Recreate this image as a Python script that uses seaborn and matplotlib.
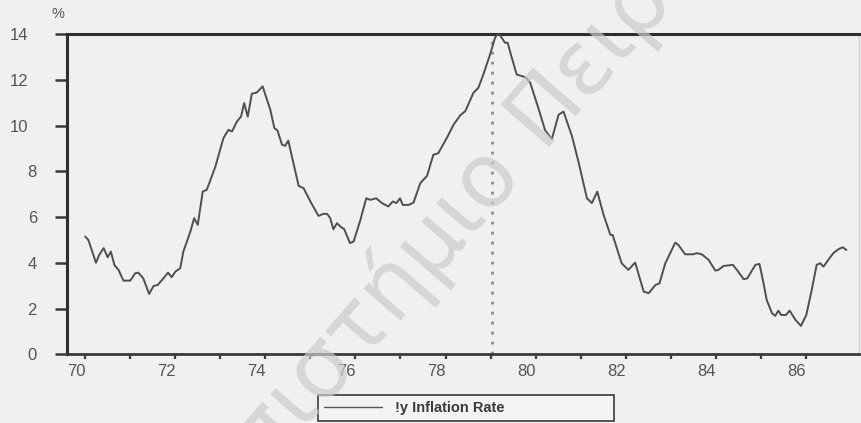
import matplotlib
matplotlib.use("Agg")
import matplotlib.pyplot as plt
import matplotlib.transforms as mtransforms
import numpy as np
import pandas as pd
import seaborn as sns

# Annual inflation rate, 1970-1987 (decimal year, percent)
years = [
    70.00, 70.07, 70.24, 70.31, 70.41, 70.50, 70.57, 70.65, 70.74, 70.85,
    71.00, 71.11, 71.18, 71.29, 71.42, 71.52, 71.61, 71.72, 71.84, 71.92,
    72.00, 72.11, 72.18, 72.33, 72.42, 72.50, 72.61, 72.70, 72.89, 73.07,
    73.18, 73.26, 73.37, 73.46, 73.53, 73.61, 73.70, 73.81, 73.94, 74.11,
    74.20, 74.27, 74.37, 74.44, 74.51, 74.59, 74.74, 74.85, 75.00, 75.18,
    75.29, 75.37, 75.44, 75.51, 75.59, 75.68, 75.75, 75.88, 75.96, 76.11,
    76.24, 76.33, 76.46, 76.59, 76.73, 76.83, 76.91, 76.99, 77.05, 77.18,
    77.29, 77.44, 77.59, 77.73, 77.84, 78.03, 78.18, 78.33, 78.44, 78.62,
    78.73, 78.84, 78.99, 79.10, 79.15, 79.21, 79.32, 79.38, 79.45, 79.58,
    79.70, 79.79, 79.88, 80.06, 80.21, 80.36, 80.51, 80.62, 80.81, 80.95,
    81.14, 81.25, 81.37, 81.51, 81.66, 81.71, 81.91, 82.06, 82.21, 82.40,
    82.51, 82.66, 82.75, 82.88, 83.10, 83.17, 83.32, 83.49, 83.58, 83.69,
    83.84, 83.99, 84.06, 84.17, 84.38, 84.50, 84.62, 84.70, 84.88, 84.97,
    85.06, 85.13, 85.25, 85.32, 85.39, 85.45, 85.56, 85.64, 85.76, 85.89,
    86.01, 86.13, 86.24, 86.32, 86.39, 86.50, 86.61, 86.72, 86.82, 86.90,
]
inflation = [
    5.15, 5.00, 4.00, 4.34, 4.64, 4.24, 4.49, 3.90, 3.69, 3.22,
    3.22, 3.54, 3.57, 3.32, 2.64, 2.99, 3.03, 3.28, 3.57, 3.37,
    3.61, 3.76, 4.49, 5.33, 5.95, 5.66, 7.11, 7.19, 8.20, 9.45,
    9.81, 9.74, 10.18, 10.39, 10.98, 10.39, 11.39, 11.44, 11.71, 10.69,
    9.89, 9.78, 9.16, 9.11, 9.34, 8.64, 7.36, 7.26, 6.68, 6.05,
    6.14, 6.14, 5.95, 5.47, 5.73, 5.56, 5.47, 4.86, 4.93, 5.87,
    6.82, 6.75, 6.82, 6.61, 6.46, 6.68, 6.61, 6.82, 6.53, 6.53,
    6.63, 7.48, 7.80, 8.72, 8.79, 9.46, 10.04, 10.45, 10.63, 11.43,
    11.65, 12.23, 13.11, 13.84, 14.00, 13.95, 13.62, 13.62, 13.11, 12.23,
    12.16, 12.09, 11.87, 10.77, 9.80, 9.40, 10.47, 10.61, 9.52, 8.43,
    6.82, 6.61, 7.11, 6.09, 5.22, 5.22, 3.98, 3.69, 4.01, 2.74,
    2.67, 3.03, 3.10, 3.98, 4.88, 4.78, 4.37, 4.37, 4.42, 4.37,
    4.13, 3.66, 3.69, 3.86, 3.91, 3.61, 3.28, 3.32, 3.91, 3.95,
    3.11, 2.38, 1.79, 1.68, 1.91, 1.72, 1.72, 1.91, 1.53, 1.24,
    1.72, 2.81, 3.91, 3.98, 3.83, 4.13, 4.42, 4.59, 4.68, 4.56,
]
series_label = "!y Inflation Rate"
peak_year = 79.04
x_ticks = [70, 72, 74, 76, 78, 80, 82, 84, 86]
x_minor = [71, 73, 75, 77, 79, 81, 83, 85]
y_ticks = [0, 2, 4, 6, 8, 10, 12, 14]

df = pd.DataFrame({"year": years, "rate": inflation})

sns.set_theme(style="white")
plt.rcParams["font.family"] = ["Liberation Sans", "DejaVu Sans"]

bg = "#f0f0f0"
ink = "#555555"
fig = plt.figure(figsize=(8.61, 4.23), dpi=100, facecolor=bg)
ax = fig.add_axes([66.7 / 861, 1 - 354.3 / 423, (859 - 66.7) / 861, (354.3 - 34) / 423])
ax.set_facecolor(bg)

# faint university watermark across the page
wm = dict(color="#cbcbcb", alpha=0.7, fontsize=64, rotation=49,
          rotation_mode="anchor", va="baseline", zorder=0,
          family=["DejaVu Sans"])
fig.text(522 / 861, 1 - 170 / 423, "Πανεπιστήμιο", ha="right", **wm)
fig.text(541 / 861, 1 - 148 / 423, "Πειραιώς", ha="left", **wm)

sns.lineplot(data=df, x="year", y="rate", ax=ax, estimator=None, sort=False,
             color="#4f4f4f", linewidth=1.4, label=series_label, zorder=3)

# dotted marker at the inflation peak
ax.plot([peak_year, peak_year], [0, 14], color="#8a8a8a", linewidth=2,
        linestyle=(0, (1, 2.6)), zorder=2)

ax.set_xlim(69.59, 87.18)
ax.set_ylim(0, 14)
ax.set_xticks(x_ticks)
ax.set_xticklabels([str(t) for t in x_ticks])
ax.set_xticks(x_minor, minor=True)
ax.set_yticks(y_ticks)
ax.set_yticklabels([str(t) for t in y_ticks])
ax.set_xlabel("")
ax.set_ylabel("")

for side in ["top", "left"]:
    ax.spines[side].set_color("#2e2e2e")
    ax.spines[side].set_linewidth(2.2)
ax.spines["bottom"].set_color("#3a3a3a")
ax.spines["bottom"].set_linewidth(2.0)
ax.spines["right"].set_color("#d2d2d2")
ax.spines["right"].set_linewidth(1.0)

ax.tick_params(axis="y", which="major", direction="out", length=8.4, width=1.8,
               color="#3a3a3a", pad=13, labelsize=12, labelcolor=ink, left=True)
ax.tick_params(axis="x", which="both", direction="out", length=3.8, width=1.6,
               color="#3a3a3a", pad=3.5, labelsize=12, labelcolor=ink, bottom=True)

shift_x = mtransforms.ScaledTranslation(-9 / 100, 0, fig.dpi_scale_trans)
for lab in ax.get_xticklabels():
    lab.set_transform(lab.get_transform() + shift_x)
for lab in ax.get_yticklabels():
    if len(lab.get_text()) > 1:
        lab.set_transform(lab.get_transform() + shift_x)

fig.text(58 / 861, 1 - 14 / 423, "%", ha="center", va="center",
         fontsize=10.5, color=ink)

leg = ax.legend(loc="lower left", mode="expand",
                bbox_to_anchor=(318 / 861, 1 - 421 / 423, (614 - 318) / 861, 24 / 423),
                bbox_transform=fig.transFigure, borderaxespad=0, borderpad=0.4,
                handlelength=4.0, handletextpad=0.85, fancybox=False, framealpha=1,
                prop={"weight": "bold", "size": 10.5})
leg.get_frame().set_edgecolor("#3a3a3a")
leg.get_frame().set_linewidth(1.2)
leg.get_frame().set_facecolor("#f3f3f3")
for t in leg.get_texts():
    t.set_color("#3a3a3a")
for h in leg.get_lines():
    h.set_linewidth(1.0)
    h.set_color("#555555")

fig.savefig("out.png", dpi=100, facecolor=bg)
